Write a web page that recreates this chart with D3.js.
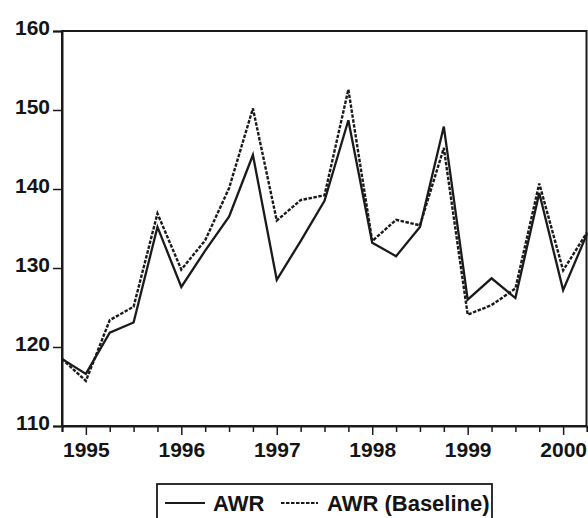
<!DOCTYPE html>
<html>
<head>
<meta charset="utf-8">
<script src="https://cdn.jsdelivr.net/npm/d3@7"></script>
<style>
  body { margin: 0; background: #fff; }
  svg text { font-family: "Liberation Sans", Arial, sans-serif; font-weight: bold; fill: #141414; }
</style>
</head>
<body>
<div id="chart"></div>
<script>
// quarterly periods, 1994Q4 .. 2000Q2
const periods = ["1994Q4",
  "1995Q1", "1995Q2", "1995Q3", "1995Q4",
  "1996Q1", "1996Q2", "1996Q3", "1996Q4",
  "1997Q1", "1997Q2", "1997Q3", "1997Q4",
  "1998Q1", "1998Q2", "1998Q3", "1998Q4",
  "1999Q1", "1999Q2", "1999Q3", "1999Q4",
  "2000Q1", "2000Q2"];

const awr = [118.5,
  116.6, 121.8, 123.1, 135.2,
  127.6, 132.2, 136.5, 144.3,
  128.5, 133.4, 138.5, 148.7,
  133.2, 131.5, 135.2, 147.9,
  126.0, 128.7, 126.2, 139.5,
  127.2, 134.3];

const awrBaseline = [118.5,
  115.7, 123.4, 125.1, 136.9,
  129.8, 133.5, 140.1, 150.2,
  136.0, 138.6, 139.2, 152.6,
  133.4, 136.1, 135.4, 145.2,
  124.1, 125.3, 127.4, 140.7,
  129.7, 134.5];

const yTicks = [110, 120, 130, 140, 150, 160];
const yearLabels = ["1995", "1996", "1997", "1998", "1999", "2000"];

const width = 588, height = 518;
const margin = { top: 31, right: 1, bottom: 92, left: 62 };

const svg = d3.select("#chart").append("svg")
  .attr("width", width)
  .attr("height", height);

const x = d3.scaleLinear()
  .domain([0, periods.length - 1])
  .range([margin.left, width - margin.right]);

const y = d3.scaleLinear()
  .domain([110, 160])
  .range([height - margin.bottom, margin.top]);

// frame
svg.append("rect")
  .attr("x", x(0))
  .attr("y", y(160))
  .attr("width", x(periods.length - 1) - x(0) - 0.5)
  .attr("height", y(110) - y(160))
  .attr("fill", "none")
  .attr("stroke", "#1a1a1a")
  .attr("stroke-width", 2);

// y axis
const yAxis = svg.append("g")
  .attr("transform", `translate(${x(0)},0)`)
  .call(d3.axisLeft(y).tickValues(yTicks).tickSize(9).tickPadding(3).tickFormat(d3.format("d")));
yAxis.select(".domain").attr("stroke", "#1a1a1a").attr("stroke-width", 2);
yAxis.selectAll(".tick line").attr("stroke", "#1a1a1a").attr("stroke-width", 1.5);
yAxis.selectAll(".tick text").attr("font-size", 21).attr("dy", "0.18em");

// x axis, quarterly ticks, year labels on Q1
const isQ1 = i => periods[i].endsWith("Q1");
const xAxis = svg.append("g")
  .attr("transform", `translate(0,${y(110)})`)
  .call(d3.axisBottom(x)
    .tickValues(d3.range(periods.length))
    .tickSize(6)
    .tickPadding(8)
    .tickFormat(i => isQ1(i) ? yearLabels[yearLabels.indexOf(periods[i].slice(0, 4))] : ""));
xAxis.select(".domain").attr("stroke", "#1a1a1a").attr("stroke-width", 2);
xAxis.selectAll(".tick line")
  .attr("stroke", "#1a1a1a")
  .attr("stroke-width", 1.5)
  .attr("y2", i => isQ1(i) ? 9 : 6);
xAxis.selectAll(".tick text").attr("font-size", 21).attr("dy", "0.82em");

// series
const line = d3.line()
  .x((d, i) => x(i))
  .y(d => y(d));

svg.append("path")
  .datum(awrBaseline)
  .attr("d", line)
  .attr("fill", "none")
  .attr("stroke", "#1a1a1a")
  .attr("stroke-width", 2.4)
  .attr("stroke-dasharray", "3.5,1.5");

svg.append("path")
  .datum(awr)
  .attr("d", line)
  .attr("fill", "none")
  .attr("stroke", "#1a1a1a")
  .attr("stroke-width", 2.3);

// legend
const legend = svg.append("g");
legend.append("rect")
  .attr("x", 157)
  .attr("y", 484)
  .attr("width", 335)
  .attr("height", 50)
  .attr("fill", "none")
  .attr("stroke", "#1a1a1a")
  .attr("stroke-width", 1.8);

legend.append("line")
  .attr("x1", 165).attr("x2", 205)
  .attr("y1", 503).attr("y2", 503)
  .attr("stroke", "#1a1a1a").attr("stroke-width", 2);
legend.append("text")
  .attr("x", 213).attr("y", 511)
  .attr("font-size", 22)
  .text("AWR");

legend.append("line")
  .attr("x1", 281).attr("x2", 318)
  .attr("y1", 503).attr("y2", 503)
  .attr("stroke", "#1a1a1a").attr("stroke-width", 2)
  .attr("stroke-dasharray", "3.5,1.5");
legend.append("text")
  .attr("x", 327).attr("y", 511)
  .attr("font-size", 22)
  .text("AWR (Baseline)");
</script>
</body>
</html>
